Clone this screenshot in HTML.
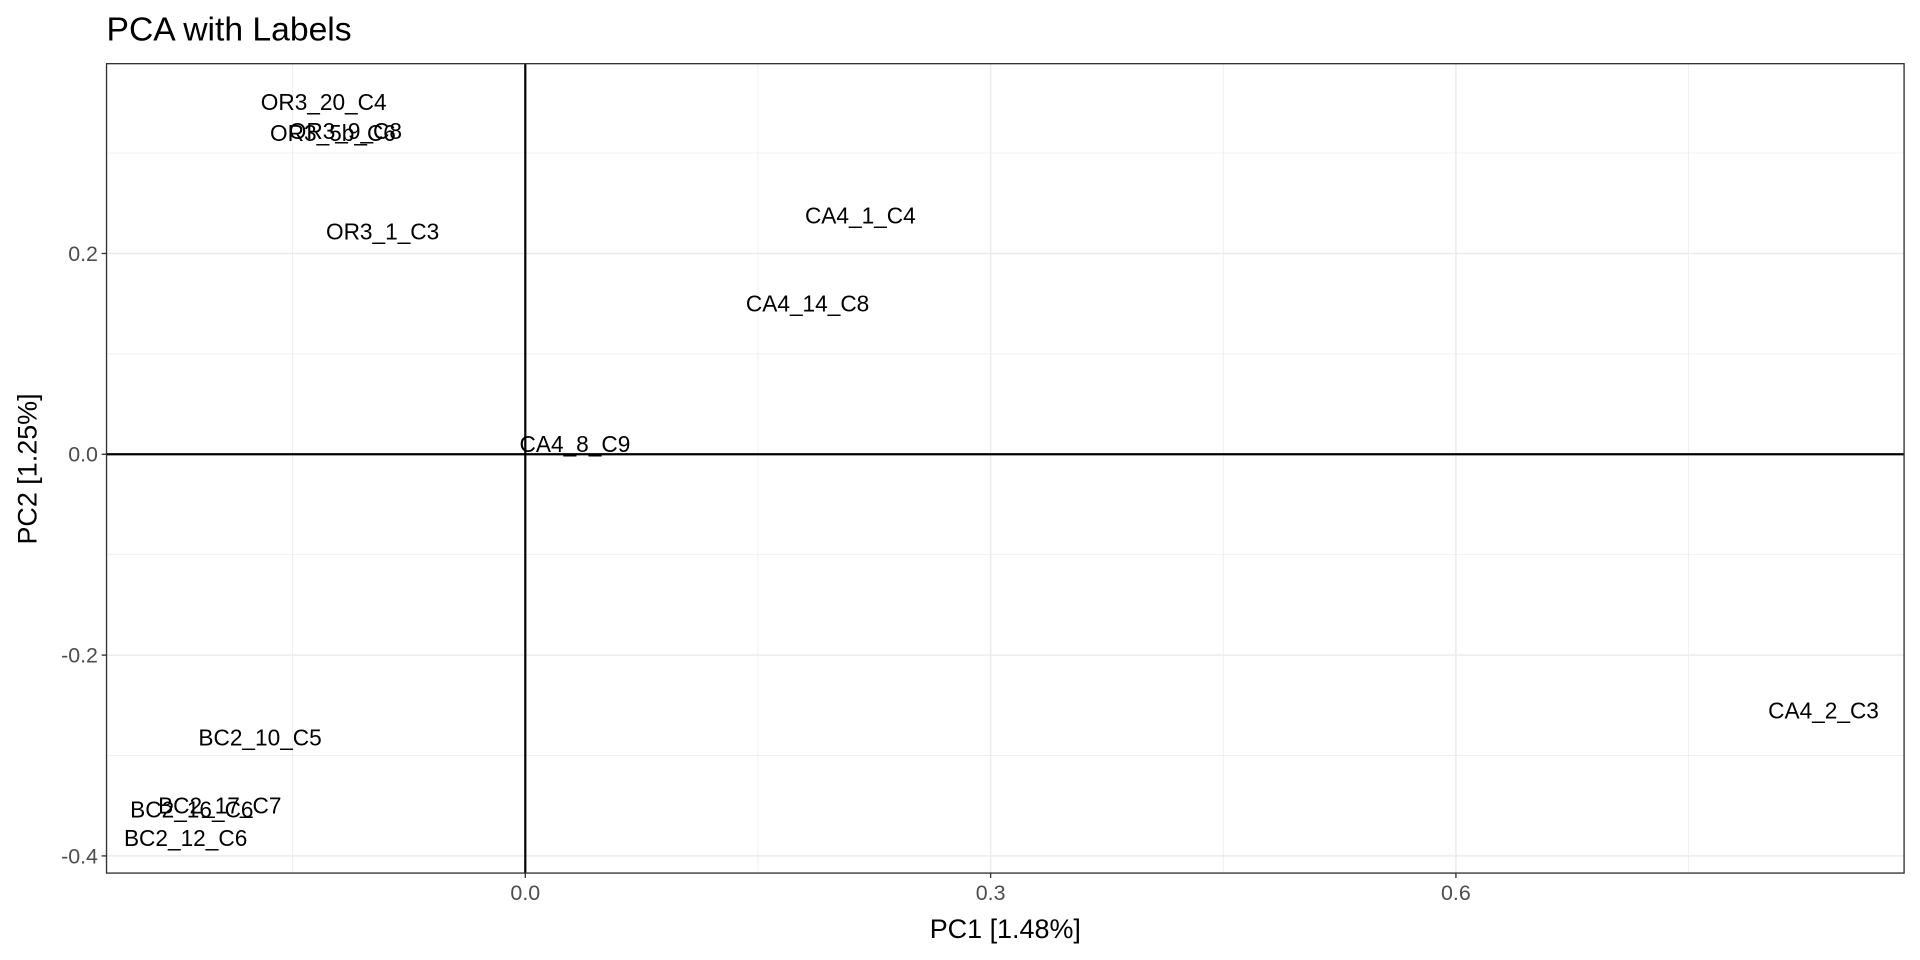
<!DOCTYPE html>
<html><head><meta charset="utf-8"><style>html,body{margin:0;padding:0;background:#fff}svg{display:block}text{font-family:"Liberation Sans",sans-serif}</style></head>
<body>
<svg id="chart" width="1920" height="960" viewBox="0 0 1568 784" xmlns="http://www.w3.org/2000/svg">
<rect width="1568" height="784" fill="#fff"/>
<text x="87" y="33" font-size="27.5" fill="#000">PCA with Labels</text>
<g id="grid"></g>
<g id="marks"></g>
<rect x="87" y="52" width="1468" height="661" fill="none" stroke="#333" stroke-width="1.1"/>
<g id="axes"></g>
<text x="821" y="766" font-size="22" text-anchor="middle">PC1 [1.48%]</text>
<text transform="translate(30,383) rotate(-90)" font-size="22" text-anchor="middle">PC2 [1.25%]</text>
</svg>
<script>
const labels = ["OR3_20_C4","OR3_9_C8","OR3_5b_C6","OR3_1_C3","CA4_1_C4","CA4_14_C8","CA4_8_C9","CA4_2_C3","BC2_10_C5","BC2_17_C7","BC2_16_C6","BC2_12_C6"];
const pc1 = [-0.130,-0.116,-0.124,-0.092,0.216,0.182,0.032,0.837,-0.171,-0.197,-0.215,-0.219];
const pc2 = [0.351,0.322,0.320,0.222,0.238,0.150,0.010,-0.255,-0.282,-0.350,-0.354,-0.382];
const xTicks = [0.0,0.3,0.6];
const xTickLabels = ["0.0","0.3","0.6"];
const xMinor = [-0.15,0.15,0.45,0.75];
const yTicks = [0.2,0.0,-0.2,-0.4];
const yTickLabels = ["0.2","0.0","-0.2","-0.4"];
const yMinor = [0.3,0.1,-0.1,-0.3];

const NS="http://www.w3.org/2000/svg";
const L=87,R=1555,T=52,B=713;
const xs=v=>429+v*(380/0.3);
const ys=v=>371-v*(164/0.2);
function mk(tag,attrs,parent){const e=document.createElementNS(NS,tag);for(const k in attrs)e.setAttribute(k,attrs[k]);parent.appendChild(e);return e;}
const grid=document.getElementById('grid'),marks=document.getElementById('marks'),axes=document.getElementById('axes');
xMinor.forEach(v=>{const e=mk('line',{x1:xs(v),x2:xs(v),y1:T,y2:B,stroke:'#ebebeb','stroke-width':0.6},grid);

});
yMinor.forEach(v=>{const e=mk('line',{x1:L,x2:R,y1:ys(v),y2:ys(v),stroke:'#ebebeb','stroke-width':0.6},grid);

});
xTicks.forEach((v,i)=>{const e=mk('line',{x1:xs(v),x2:xs(v),y1:T,y2:B,stroke:'#ebebeb','stroke-width':1.2},grid);


const t=mk('line',{x1:xs(v),x2:xs(v),y1:B,y2:B+4,stroke:'#333','stroke-width':1.1},axes);


const tx=mk('text',{x:xs(v),y:B+22,'font-size':17.5,fill:'#4d4d4d','text-anchor':'middle'},axes);tx.textContent=xTickLabels[i];

});
yTicks.forEach((v,i)=>{const e=mk('line',{x1:L,x2:R,y1:ys(v),y2:ys(v),stroke:'#ebebeb','stroke-width':1.2},grid);


const t=mk('line',{x1:L-4,x2:L,y1:ys(v),y2:ys(v),stroke:'#333','stroke-width':1.1},axes);


const tx=mk('text',{x:L-7,y:ys(v)+6,'font-size':17.5,fill:'#4d4d4d','text-anchor':'end'},axes);tx.textContent=yTickLabels[i];

});
const vz=mk('line',{x1:xs(0),x2:xs(0),y1:T,y2:B,stroke:'#000','stroke-width':1.8},grid);


const hz=mk('line',{x1:L,x2:R,y1:ys(0),y2:ys(0),stroke:'#000','stroke-width':1.8},grid);


labels.forEach((s,i)=>{const t=mk('text',{x:xs(pc1[i]),y:ys(pc2[i])+6.5,'font-size':18.5,fill:'#000','text-anchor':'middle'},marks);t.textContent=s;

});
</script>
</body></html>
